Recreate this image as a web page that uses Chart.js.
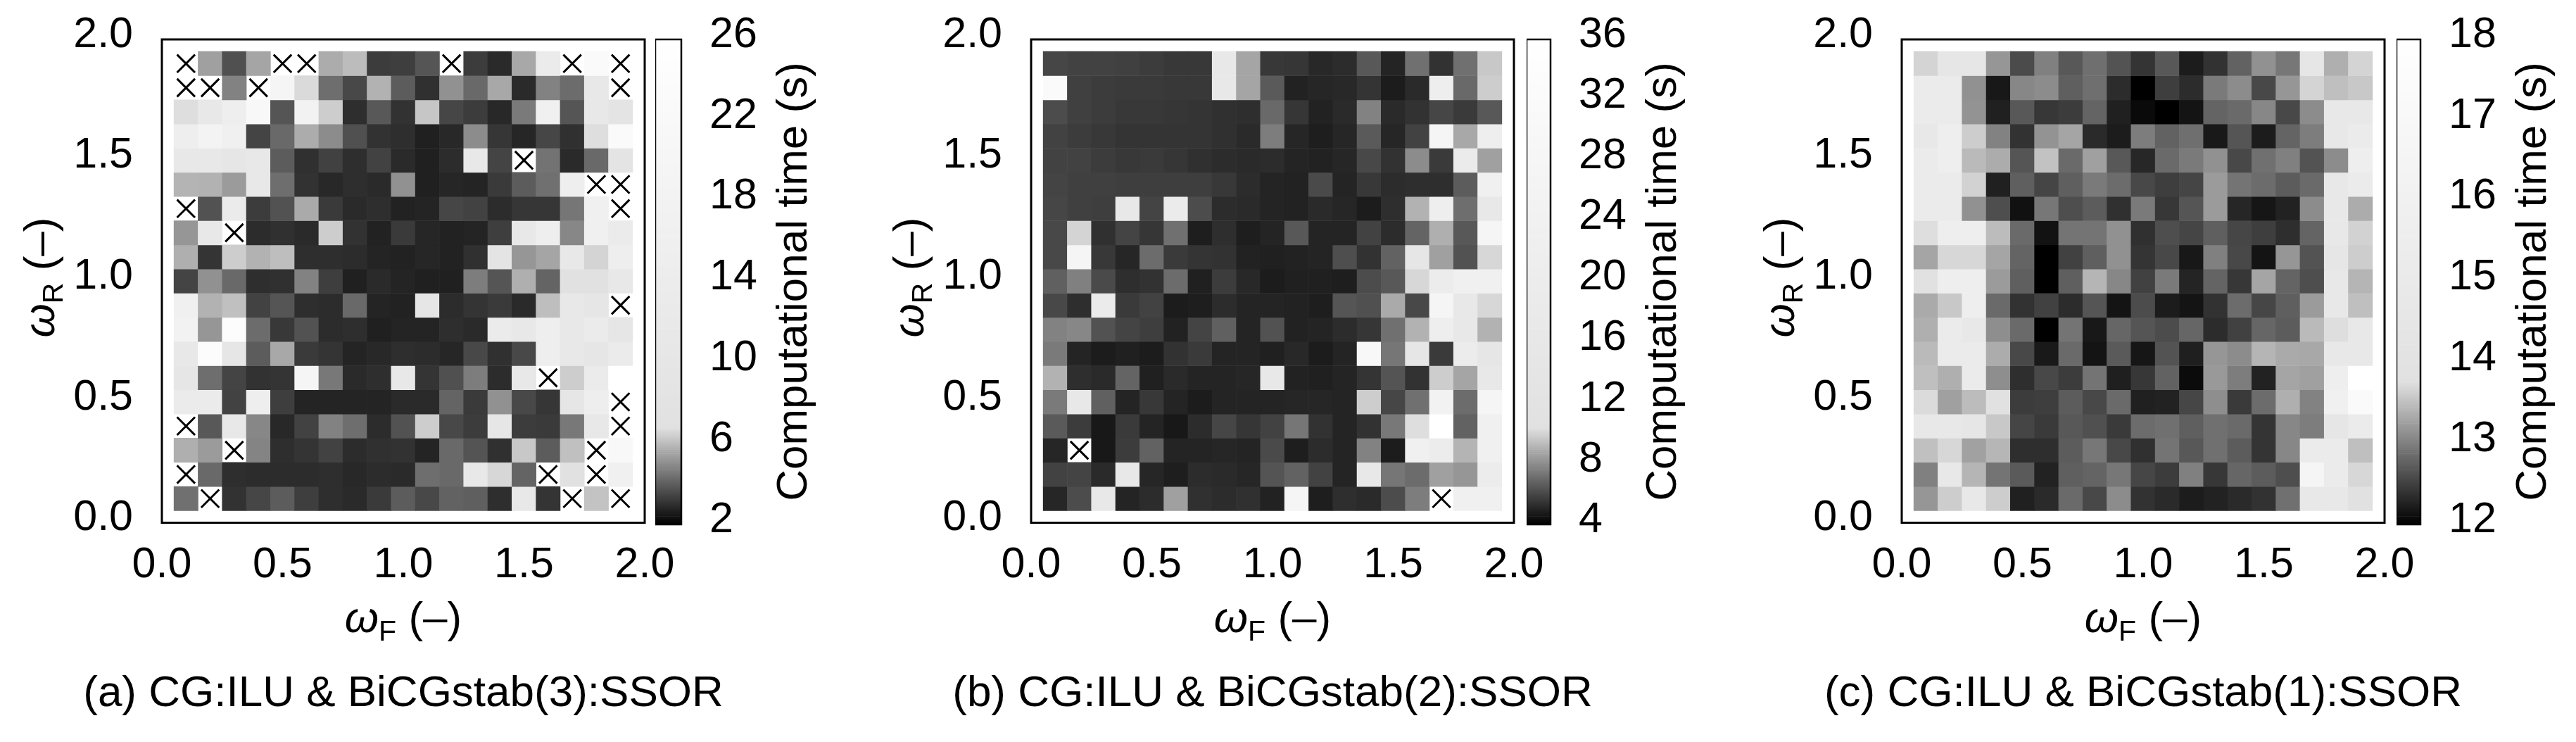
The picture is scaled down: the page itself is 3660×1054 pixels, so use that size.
<!DOCTYPE html>
<html>
<head>
<meta charset="utf-8">
<title>Computational time maps</title>
<script src="https://cdn.jsdelivr.net/npm/chart.js@4/dist/chart.umd.min.js"></script>
<style>
  html, body { margin: 0; background: #fff; }
  #lienzo { position: relative; width: 3660px; height: 1054px; overflow: hidden; }
  canvas { position: absolute; top: 0; }
</style>
</head>
<body>
<div id="lienzo"></div>
<script>
const omegaF = [0.1,0.2,0.3,0.4,0.5,0.6,0.7,0.8,0.9,1.0,1.1,1.2,1.3,1.4,1.5,1.6,1.7,1.8,1.9];
const omegaR = [1.9,1.8,1.7,1.6,1.5,1.4,1.3,1.2,1.1,1.0,0.9,0.8,0.7,0.6,0.5,0.4,0.3,0.2,0.1];
const ticksOmega = [0,0.5,1,1.5,2];

const ticksTiempoA = [2,6,10,14,18,22,26];
const ticksTiempoB = [4,8,12,16,20,24,28,32,36];
const ticksTiempoC = [12,13,14,15,16,17,18];

const captionA = "(a) CG:ILU & BiCGstab(3):SSOR";
const captionB = "(b) CG:ILU & BiCGstab(2):SSOR";
const captionC = "(c) CG:ILU & BiCGstab(1):SSOR";

// seconds, rows go from omegaR 1.9 down to 0.1, null = run failed (drawn as a cross)
const tiemposA = [
  [null,5.41,3.71,5.52,null,null,5.67,6.01,3.28,3.32,3.81,null,3.28,2.90,5.58,13.2,null,22.8,null],
  [null,null,4.77,null,19.6,6.65,4.35,3.54,5.80,3.96,3.02,5.09,4.24,5.58,2.90,4.77,4.30,11.28,null],
  [6.74,11.28,15.12,21.52,3.81,17.68,6.37,2.98,3.88,3.07,6.22,3.49,3.28,2.85,4.60,16.4,3.81,11.28,8.72],
  [15.12,18.32,16.4,3.45,4.24,5.67,4.99,3.71,3.07,2.98,2.68,2.85,4.99,3.15,2.81,3.49,3.02,6.74,22.8],
  [11.28,11.28,10.0,11.28,3.96,3.02,3.39,2.98,3.41,2.90,2.68,2.94,11.28,3.45,null,4.45,2.90,4.24,8.72],
  [5.84,5.80,5.31,11.28,4.35,3.07,2.85,2.98,2.90,5.09,2.68,2.81,2.77,3.24,3.96,4.39,15.12,null,null],
  [null,3.75,13.2,3.28,3.75,5.63,3.24,2.90,2.98,2.73,2.77,3.49,3.41,2.94,3.15,3.15,4.52,16.4,null],
  [5.20,11.28,null,2.94,3.02,2.90,6.37,3.07,2.73,3.24,2.81,2.73,2.77,3.32,11.28,15.12,4.88,16.4,13.2],
  [5.73,3.11,6.37,5.80,6.05,2.98,2.98,2.94,2.77,2.73,2.81,2.73,3.02,8.72,5.20,5.52,11.28,6.52,15.12],
  [3.45,5.09,4.24,2.98,3.02,4.77,3.32,2.68,2.90,2.77,2.68,2.68,4.67,3.81,5.73,4.13,6.80,6.80,11.28],
  [16.4,5.80,6.10,3.41,3.81,2.98,2.94,4.24,2.77,2.73,10.0,2.94,3.11,3.24,2.90,6.05,11.28,10.0,null],
  [17.68,5.20,24.08,4.30,3.19,3.75,2.94,2.98,2.68,2.77,2.77,2.98,2.90,13.2,11.28,15.12,11.28,13.2,10.0],
  [11.28,24.08,10.0,3.96,5.58,3.24,3.11,2.77,2.85,2.98,2.94,2.81,3.54,3.02,3.54,15.12,11.28,10.0,13.2],
  [10.0,4.35,3.45,3.07,3.11,19.6,4.56,2.90,2.98,11.28,3.11,3.71,4.67,2.94,11.28,null,6.37,13.2,26],
  [13.2,13.2,3.41,15.12,3.32,2.77,2.77,2.77,2.77,2.90,2.90,4.13,3.24,5.09,3.54,3.15,10.0,15.12,null],
  [null,3.88,11.28,4.88,2.85,3.41,4.77,4.35,2.94,3.75,6.37,3.54,3.28,10.0,3.28,3.24,4.56,11.28,null],
  [5.73,5.31,null,4.82,2.98,3.11,3.41,2.94,3.02,3.07,2.77,4.24,3.79,3.02,6.27,3.96,6.10,null,21.52],
  [null,4.24,2.98,2.94,2.94,2.94,2.98,2.85,2.94,2.90,4.35,4.24,11.28,6.59,4.13,null,6.80,null,16.4],
  [4.39,null,3.07,3.49,3.96,3.32,2.98,2.90,3.24,3.96,3.54,4.09,4.03,2.98,11.28,3.11,null,6.16,null]
];

const tiemposB = [
  [5.99,5.88,5.88,5.82,5.71,5.59,5.59,16.37,8.69,5.59,5.54,5.14,5.25,6.50,5.02,7.19,5.42,7.19,9.69],
  [31.73,5.82,5.71,5.65,5.65,5.59,5.59,16.37,8.69,6.56,4.97,5.08,5.14,5.48,4.80,5.19,21.49,6.99,9.83],
  [6.16,5.82,5.71,5.59,5.59,5.54,5.48,5.37,5.31,6.99,5.54,4.97,5.19,7.70,5.19,5.42,5.99,5.65,6.50],
  [5.88,5.71,5.59,5.48,5.48,5.48,5.48,5.37,5.19,7.56,5.08,4.85,5.08,6.56,5.08,5.88,27.46,8.78,21.49],
  [5.88,5.88,5.71,5.59,5.65,5.54,5.37,5.25,5.19,5.25,5.02,4.97,5.08,6.05,5.42,7.98,5.65,18.93,8.55],
  [5.93,5.82,5.82,5.76,5.76,5.76,5.76,5.59,5.25,5.02,4.97,6.10,5.02,5.59,5.25,5.31,5.31,6.62,23.2],
  [5.99,5.82,5.76,16.37,5.93,18.93,6.16,5.25,5.19,5.02,4.97,5.19,5.08,4.80,5.31,9.06,21.49,7.13,16.37],
  [6.05,10.03,5.37,5.93,5.54,7.19,4.85,5.31,4.85,5.02,6.50,5.02,5.02,5.88,5.25,6.84,8.98,6.50,27.46],
  [6.05,27.46,5.59,5.08,7.07,5.65,5.48,5.42,4.97,4.91,4.97,5.02,6.22,5.42,6.79,14.67,8.55,6.33,10.11],
  [6.73,7.64,6.10,5.31,5.42,7.07,4.91,5.71,5.14,4.80,4.91,4.91,4.85,6.16,6.50,10.11,19.78,23.2,23.2],
  [6.05,5.31,18.93,5.65,5.88,4.80,4.85,5.25,5.02,5.02,4.97,4.85,6.42,6.28,8.83,6.05,27.46,16.37,10.11],
  [7.70,7.84,6.33,5.93,5.76,4.97,5.93,6.73,5.02,6.33,4.97,5.02,5.25,5.54,7.19,9.06,21.49,16.37,9.06],
  [7.47,5.02,4.80,4.91,4.80,5.42,5.65,5.02,5.02,4.91,5.14,4.80,5.02,30.02,7.36,14.67,5.65,19.78,14.67],
  [9.06,5.31,5.19,6.84,4.91,5.19,5.02,5.02,5.08,16.37,4.97,4.91,5.02,5.48,6.39,5.42,9.83,8.69,16.37],
  [7.47,16.37,6.73,5.02,5.59,5.02,4.80,5.02,5.02,5.02,5.08,5.08,5.02,9.83,5.99,7.19,24.9,7.07,27.46],
  [6.56,5.71,4.68,5.65,5.02,4.68,5.25,5.99,5.54,5.88,7.36,5.42,5.02,5.42,7.41,10.31,36,6.79,23.2],
  [5.08,null,4.68,5.71,6.79,5.02,5.02,5.08,5.02,6.10,4.85,5.25,5.02,7.70,4.80,23.2,19.78,9.12,23.2],
  [5.88,5.93,5.19,16.37,5.08,4.85,5.25,5.19,5.08,6.39,6.79,5.88,5.02,16.37,7.36,7.07,8.55,8.27,19.78],
  [5.08,6.16,16.37,5.02,5.25,8.55,5.37,5.25,5.37,4.97,27.46,4.85,5.31,5.19,6.16,7.56,null,23.2,23.2]
];

const tiemposC = [
  [13.67,14.48,14.48,13.18,12.59,13.01,12.69,12.87,12.65,12.41,12.69,12.22,12.39,12.77,13.14,12.94,14.48,13.38,13.67],
  [15.18,15.18,13.14,12.19,13.06,13.10,12.75,12.87,12.35,12.00,12.49,12.35,12.96,13.10,12.57,13.18,13.67,13.50,13.57],
  [15.18,15.18,13.16,12.25,12.69,12.43,12.47,12.79,12.25,12.08,12.00,12.16,12.79,12.83,13.06,12.57,13.10,14.76,14.76],
  [14.76,15.60,13.61,13.02,12.39,13.16,13.30,12.33,12.22,12.98,12.77,12.87,12.20,12.67,12.22,12.79,12.98,14.76,15.18],
  [15.18,15.60,13.46,13.35,12.67,13.53,12.83,13.26,12.69,12.31,12.83,12.96,13.14,12.57,12.88,13.01,12.65,13.10,15.60],
  [15.18,15.18,13.65,12.25,12.75,12.54,12.75,12.96,12.85,12.57,12.49,12.54,13.22,12.91,12.85,12.72,12.83,14.76,15.18],
  [15.18,15.18,13.14,12.61,12.13,12.94,12.61,12.72,12.38,12.96,12.43,12.67,13.22,12.30,12.17,12.27,13.10,14.76,13.35],
  [13.75,15.60,15.60,13.48,12.83,12.14,12.91,12.91,13.14,12.38,12.61,12.54,12.75,12.55,12.49,12.36,12.79,14.76,13.65],
  [13.30,13.69,13.69,13.30,12.79,12.00,12.51,12.75,13.14,12.41,12.57,12.19,13.01,12.57,12.16,13.18,12.65,14.48,13.61],
  [13.77,15.60,15.60,13.22,12.75,12.00,12.75,13.42,13.06,12.51,12.96,12.28,12.79,12.43,13.30,12.79,12.61,14.76,13.42],
  [13.34,13.57,15.60,12.83,12.39,12.51,12.35,12.67,12.16,12.60,12.22,12.16,12.39,12.85,12.55,12.75,13.22,14.76,13.50],
  [13.38,15.18,14.76,13.12,12.83,12.00,12.91,12.19,12.80,12.67,12.60,12.80,12.35,12.51,12.80,12.72,13.46,13.75,14.76],
  [13.46,15.18,15.18,13.35,12.57,12.20,12.83,12.16,12.71,12.17,12.65,12.24,13.18,13.10,13.42,13.34,13.32,14.76,14.76],
  [13.50,13.38,15.18,13.12,12.36,12.57,12.47,12.91,12.24,12.43,12.77,12.09,13.20,12.98,12.27,13.30,13.26,15.60,18.00],
  [13.72,13.26,13.48,13.77,12.47,12.49,12.72,12.57,12.83,12.25,12.27,12.55,13.12,12.46,12.85,13.38,13.02,15.89,17.30],
  [14.76,14.76,14.48,13.57,12.54,12.46,12.69,12.63,12.46,12.85,12.88,12.75,12.88,12.83,12.41,13.06,12.98,14.48,15.18],
  [13.51,13.69,13.27,13.43,12.36,12.36,12.72,12.94,12.57,12.38,12.91,12.69,12.88,12.72,12.41,13.06,15.18,15.18,13.50],
  [13.01,14.76,13.42,12.91,12.71,12.27,12.75,12.79,12.94,12.55,12.47,13.01,12.43,12.80,12.72,12.61,16.59,15.18,13.69],
  [13.18,13.61,14.76,13.61,12.25,12.33,12.83,12.57,13.10,12.39,12.33,12.22,12.27,12.33,12.39,12.88,14.76,14.76,13.77]
];

Chart.defaults.font.family = '"Liberation Sans", Arial, sans-serif';
Chart.defaults.color = "#000";
Chart.defaults.animation = false;

const TAM_TICKS = 61;
const TAM_TEXTO = 62;
const MARGEN_LATERAL = 225;
const ALTO = 1054;
const TOP_EJES = 56;
const BOTTOM_EJES = 745;

// Gray palette of the colorbar: steep ramp up to "quiebre", then slow up to white
function colorDe(valor, ticks, quiebre) {
  const min = ticks[0], max = ticks[ticks.length - 1];
  const t = (valor - min) / (max - min);
  const g = t < quiebre ? 225 * t / quiebre : 225 + 30 * (t - quiebre) / (1 - quiebre);
  const c = Math.round(g);
  return `rgb(${c},${c},${c})`;
}

// Black frame around the plot area
const pluginMarco = {
  id: "marco",
  afterDraw(chart) {
    const a = chart.chartArea, ctx = chart.ctx;
    ctx.save();
    ctx.strokeStyle = "#000";
    ctx.lineWidth = chart.options.plugins.marco.grosor;
    ctx.strokeRect(a.left, a.top, a.right - a.left, a.bottom - a.top);
    ctx.restore();
  }
};

// Writes omega + subscript + " (–)" centred on the origin, on the current baseline
function escribirOmega(ctx, sub) {
  const fam = Chart.defaults.font.family;
  const partes = [
    [`italic ${TAM_TEXTO}px ${fam}`, "ω", 0],
    [`41px ${fam}`, sub, 12],
    [`${TAM_TEXTO}px ${fam}`, " (–)", 0]
  ];
  let total = 0;
  partes.forEach(p => { ctx.font = p[0]; total += ctx.measureText(p[1]).width; });
  let x = -total / 2;
  partes.forEach(p => {
    ctx.font = p[0];
    ctx.fillText(p[1], x, p[2]);
    x += ctx.measureText(p[1]).width;
  });
}

// Axis titles with a subscript, Chart.js titles can't do that
const pluginTitulosOmega = {
  id: "titulosOmega",
  afterDraw(chart) {
    const a = chart.chartArea, ctx = chart.ctx;
    ctx.save();
    ctx.fillStyle = "#000";
    ctx.textBaseline = "alphabetic";
    ctx.textAlign = "left";
    ctx.save();
    ctx.translate((a.left + a.right) / 2, 898);
    escribirOmega(ctx, "F");
    ctx.restore();
    ctx.save();
    ctx.translate(a.left - 153, 394);
    ctx.rotate(-Math.PI / 2);
    escribirOmega(ctx, "R");
    ctx.restore();
    ctx.restore();
  }
};

// Colorbar title reads bottom to top, the right-axis title of Chart.js goes the other way
const pluginTituloBarra = {
  id: "tituloBarra",
  afterDraw(chart) {
    const a = chart.chartArea, ctx = chart.ctx;
    ctx.save();
    ctx.fillStyle = "#000";
    ctx.font = `${TAM_TEXTO}px ${Chart.defaults.font.family}`;
    ctx.textAlign = "center";
    ctx.textBaseline = "alphabetic";
    ctx.translate(a.right + 178, 400);
    ctx.rotate(-Math.PI / 2);
    ctx.fillText("Computational time (s)", 0, 0);
    ctx.restore();
  }
};

function crearCanvas(left, width) {
  const canvas = document.createElement("canvas");
  canvas.width = width;
  canvas.height = ALTO;
  canvas.style.left = left + "px";
  canvas.style.width = width + "px";
  canvas.style.height = ALTO + "px";
  document.getElementById("lienzo").appendChild(canvas);
  return canvas;
}

// Tick padding gets added to the axis overhang, which would push the plot area down
function sinSobrante(s) {
  s.paddingTop = 0;
  s.paddingBottom = 0;
}

function crearMapa(tiempos, ticksTiempo, quiebre, caption, marcoLeft, marcoWidth) {
  // One floating-bar dataset per row, gaps are left for the failed runs
  const datasets = omegaR.map((r, i) => {
    const columnas = omegaF.map((f, j) => ({ f, v: tiempos[i][j] })).filter(c => c.v !== null);
    return {
      type: "bar",
      data: columnas.map(c => ({ x: c.f, y: [r - 0.05, r + 0.05] })),
      backgroundColor: columnas.map(c => colorDe(c.v, ticksTiempo, quiebre)),
      borderWidth: 0,
      grouped: false,
      barPercentage: 1,
      categoryPercentage: 1,
      order: 2
    };
  });

  const fallos = [];
  omegaR.forEach((r, i) => {
    omegaF.forEach((f, j) => {
      if (tiempos[i][j] === null) fallos.push({ x: f, y: r });
    });
  });
  datasets.push({
    type: "scatter",
    data: fallos,
    pointStyle: "crossRot",
    pointRadius: 18,
    pointBorderWidth: 3,
    borderColor: "#000",
    order: 1
  });

  return new Chart(crearCanvas(marcoLeft - MARGEN_LATERAL, marcoWidth + MARGEN_LATERAL * 2), {
    type: "bar",
    data: { datasets },
    plugins: [pluginMarco, pluginTitulosOmega],
    options: {
      responsive: false,
      layout: { padding: { top: TOP_EJES, right: 0, bottom: 31, left: 0 } },
      plugins: {
        legend: { display: false },
        tooltip: { enabled: false },
        marco: { grosor: 3 },
        title: {
          display: true,
          position: "bottom",
          text: caption,
          font: { size: TAM_TEXTO, weight: "normal", lineHeight: 1.2 },
          padding: 0
        }
      },
      scales: {
        x: {
          type: "linear", min: 0, max: 2, offset: false,
          grid: { display: false, offset: false },
          border: { display: false },
          afterBuildTicks: s => { s.ticks = ticksOmega.map(value => ({ value })); },
          afterFit: s => { s.height = 951 - BOTTOM_EJES; },
          ticks: {
            autoSkip: false, maxRotation: 0, padding: 16,
            font: { size: TAM_TICKS },
            callback: v => v.toFixed(1)
          }
        },
        y: {
          type: "linear", min: 0, max: 2,
          grid: { display: false },
          border: { display: false },
          afterBuildTicks: s => { s.ticks = ticksOmega.map(value => ({ value })); },
          afterFit: s => { s.width = MARGEN_LATERAL; sinSobrante(s); },
          ticks: {
            autoSkip: false, padding: 33, labelOffset: -6,
            font: { size: TAM_TICKS },
            callback: v => v.toFixed(1)
          }
        },
        // empty right axis, keeps the plot centred in the canvas so the caption centres under it
        relleno: {
          type: "linear", position: "right",
          grid: { display: false },
          border: { display: false },
          ticks: { display: false },
          afterFit: s => { s.width = MARGEN_LATERAL; }
        }
      }
    }
  });
}

function crearBarra(ticksTiempo, quiebre, barraLeft, barraWidth) {
  const min = ticksTiempo[0], max = ticksTiempo[ticksTiempo.length - 1];
  const niveles = [];
  for (let i = 0; i < 240; i++) niveles.push(min + (max - min) * (i + 0.5) / 240);

  const ancho = 250;
  return new Chart(crearCanvas(barraLeft, ancho), {
    type: "bar",
    data: {
      datasets: [{
        data: niveles.map(v => ({ x: [0, 1], y: v })),
        backgroundColor: niveles.map(v => colorDe(v, ticksTiempo, quiebre)),
        borderWidth: 0,
        barPercentage: 1,
        categoryPercentage: 1
      }]
    },
    plugins: [pluginMarco, pluginTituloBarra],
    options: {
      responsive: false,
      indexAxis: "y",
      layout: { padding: { top: TOP_EJES, bottom: ALTO - BOTTOM_EJES, left: 0, right: 0 } },
      plugins: {
        legend: { display: false },
        tooltip: { enabled: false },
        marco: { grosor: 2.5 }
      },
      scales: {
        x: { type: "linear", min: 0, max: 1, display: false },
        y: {
          type: "linear", position: "right", min, max, offset: false,
          grid: { display: false, offset: false },
          border: { display: false },
          afterBuildTicks: s => { s.ticks = ticksTiempo.map(value => ({ value })); },
          afterFit: s => { s.width = ancho - barraWidth; sinSobrante(s); },
          ticks: {
            autoSkip: false, padding: 32, labelOffset: -6,
            font: { size: TAM_TICKS },
            callback: v => String(v)
          }
        }
      }
    }
  });
}

crearMapa(tiemposA, ticksTiempoA, 0.2, captionA, 230, 686);
crearBarra(ticksTiempoA, 0.2, 931, 37);
crearMapa(tiemposB, ticksTiempoB, 0.2, captionB, 1465, 686);
crearBarra(ticksTiempoB, 0.2, 2169, 34);
crearMapa(tiemposC, ticksTiempoC, 0.295, captionC, 2702, 686);
crearBarra(ticksTiempoC, 0.295, 3405, 34);
</script>
</body>
</html>
